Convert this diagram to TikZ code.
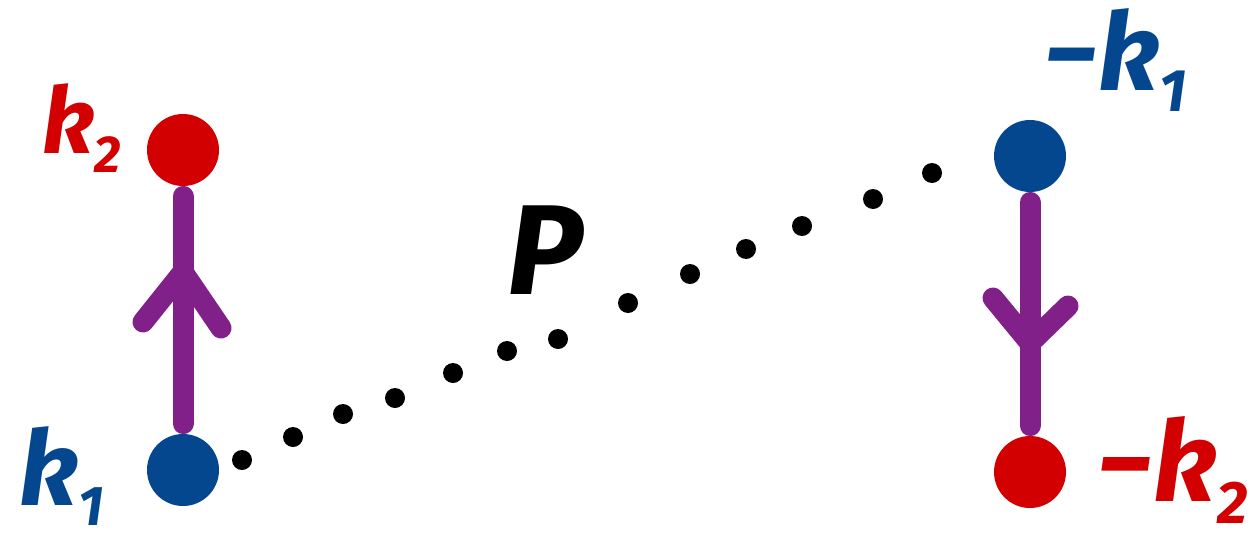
\documentclass[tikz,border=0pt]{standalone}
\usepackage{fontspec}
\setmainfont{Fira Sans}
\usetikzlibrary{calc}
\definecolor{kred}{RGB}{210,0,0}
\definecolor{kblue}{RGB}{4,71,143}
\definecolor{kpurple}{RGB}{130,32,138}
\newcommand\lsub[2]{\raisebox{-0.2em}{\fontsize{#1}{#1}\selectfont #2}}
\begin{document}
\begin{tikzpicture}[x=0.5pt,y=-0.5pt,
  bigdot/.style={circle,minimum size=36pt,inner sep=0pt},
  lbl/.style={inner sep=0pt,font=\bfseries\itshape},
  prop/.style={draw=kpurple,line width=10.5pt,line cap=round,line join=round},
  pdot/.style={fill=black}]
\useasboundingbox (0,0) rectangle (1251,546);
% vertices
\node[bigdot,fill=kred]  (k2)  at (183,150) {};
\node[bigdot,fill=kblue] (k1)  at (183,470) {};
\node[bigdot,fill=kblue] (mk1) at (1030,156) {};
\node[bigdot,fill=kred]  (mk2) at (1030,472) {};
% labels
\node[lbl,text=kred]  (lk2)  at (82,128) {\fontsize{46}{46}\selectfont k\lsub{26}{2}};
\node[lbl,text=kblue] (lk1)  at (62,476) {\fontsize{52}{52}\selectfont k\lsub{28}{1}};
\node[lbl,text=kblue] (lmk1) at (1115,60) {\fontsize{54}{54}\selectfont −k\lsub{30}{1}};
\node[lbl,text=kred]  (lmk2) at (1172,470) {\fontsize{56}{56}\selectfont −k\lsub{30}{2}};
\node[lbl,text=black] (P)    at (545,250) {\fontsize{64}{64}\selectfont P};
% propagators
\draw[prop,shorten <=5pt,shorten >=5pt] (k1.north) -- (k2.south);
\draw[prop,shorten <=5pt,shorten >=5pt] (mk1.south) -- (mk2.north);
% arrow chevrons
\coordinate (a1) at (183,272);
\coordinate (a2) at (1030,343);
\draw[prop] ($(a1)+(-40,50)$) -- (a1) -- ($(a1)+(38,56)$);
\draw[prop] ($(a2)+(-37,-45)$) -- (a2) -- ($(a2)+(38,-37)$);
% dotted line k1 -- -k1
\foreach \x/\y in {242/460,293/437,343/414,395/398,453/373,507/351,558/339,628/303,690/274,746/249,802/226,873/199,932/173}
  \fill[pdot] (\x,\y) circle[radius=5pt];
\end{tikzpicture}
\end{document}
